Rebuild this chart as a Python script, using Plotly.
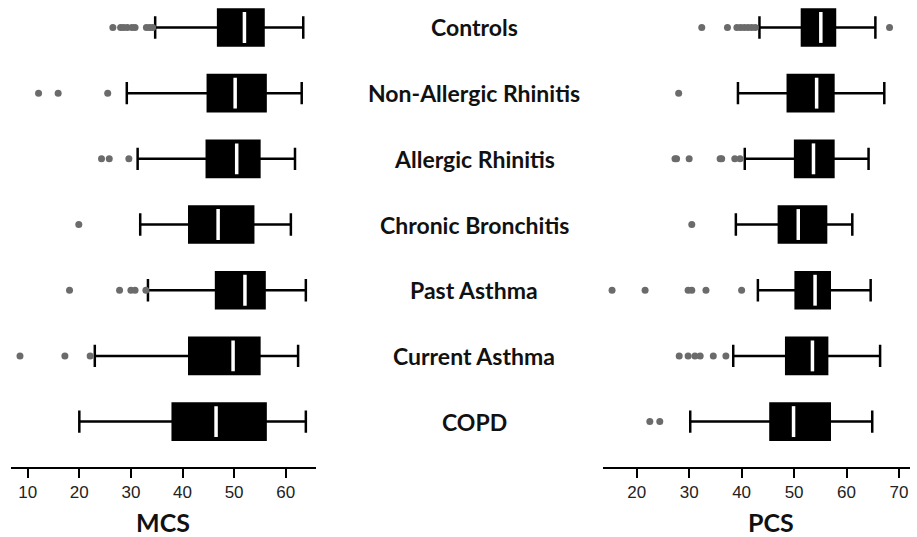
import plotly.graph_objects as go

categories = ["Controls", "Non-Allergic Rhinitis", "Allergic Rhinitis",
              "Chronic Bronchitis", "Past Asthma", "Current Asthma", "COPD"]

# MCS (left panel)
mcs_low = [34.7, 29.2, 31.3, 31.8, 33.3, 23.0, 20.0]
mcs_q1 = [46.9, 44.9, 44.7, 41.3, 46.5, 41.3, 38.1]
mcs_med = [52.0, 50.2, 50.5, 46.9, 52.1, 49.8, 46.5]
mcs_q3 = [55.7, 56.1, 54.9, 53.7, 55.9, 54.9, 56.1]
mcs_high = [63.4, 63.1, 61.8, 61.0, 63.9, 62.4, 63.9]
mcs_outliers = [
    [26.5, 28.0, 28.6, 29.3, 30.2, 30.8, 33.0, 33.6, 34.2],
    [12.1, 15.9, 25.5],
    [24.3, 25.8, 29.6],
    [19.9],
    [18.1, 27.8, 30.0, 30.8, 32.9],
    [8.5, 17.2, 22.1],
    [],
]

# PCS (right panel)
pcs_low = [43.4, 39.3, 40.6, 38.9, 43.1, 38.4, 30.2]
pcs_q1 = [51.5, 48.8, 50.2, 47.1, 50.3, 48.5, 45.5]
pcs_med = [55.1, 54.3, 53.7, 50.8, 54.0, 53.5, 49.9]
pcs_q3 = [57.8, 57.5, 57.5, 56.1, 56.8, 56.3, 56.8]
pcs_high = [65.5, 67.2, 64.2, 61.1, 64.6, 66.4, 64.9]
pcs_outliers = [
    [32.4, 37.3, 39.1, 39.8, 40.5, 41.2, 41.9, 42.6, 68.2],
    [28.0],
    [27.3, 27.6, 30.0, 35.9, 36.2, 38.7, 39.7],
    [30.5],
    [15.3, 21.6, 29.8, 30.5, 33.2, 40.0],
    [28.1, 29.8, 31.1, 32.1, 34.6, 37.0],
    [22.5, 24.4],
]

mcs_ticks = [10, 20, 30, 40, 50, 60]
pcs_ticks = [20, 30, 40, 50, 60, 70]

BOX_W = 0.55
MED_HALF = 0.235

W, H = 917, 537
fig = go.Figure()
pos = list(range(len(categories)))


def add_panel(xa, low, q1, med, q3, high, outliers):
    fig.add_trace(go.Box(
        y=pos, q1=q1, median=med, q3=q3, lowerfence=low, upperfence=high,
        orientation="h", xaxis=xa, yaxis="y",
        fillcolor="black", line=dict(color="black", width=2.5),
        whiskerwidth=0.62, width=BOX_W, boxpoints=False, showlegend=False,
    ))
    mx, my = [], []
    for i, m in enumerate(med):
        mx += [m, m, None]
        my += [i - MED_HALF, i + MED_HALF, None]
    fig.add_trace(go.Scatter(x=mx, y=my, mode="lines", xaxis=xa, yaxis="y",
                             line=dict(color="white", width=3.5), showlegend=False))
    ox, oy = [], []
    for i, vals in enumerate(outliers):
        ox += vals
        oy += [i] * len(vals)
    fig.add_trace(go.Scatter(x=ox, y=oy, mode="markers", xaxis=xa, yaxis="y",
                             marker=dict(color="#6b6b6b", size=7), showlegend=False))


add_panel("x", mcs_low, mcs_q1, mcs_med, mcs_q3, mcs_high, mcs_outliers)
add_panel("x2", pcs_low, pcs_q1, pcs_med, pcs_q3, pcs_high, pcs_outliers)

axis_common = dict(showline=True, linecolor="black", linewidth=2, ticks="outside",
                   ticklen=9, tickwidth=2, tickcolor="black", showgrid=False,
                   zeroline=False, anchor="y",
                   tickfont=dict(family="Liberation Sans, Arial", size=17, color="#222"),
                   ticklabelstandoff=0)

annotations = []
for i, c in enumerate(categories):
    annotations.append(dict(x=474 / W, y=i, xref="paper", yref="y", text="<b>%s</b>" % c,
                            showarrow=False, xanchor="center", yanchor="middle",
                            font=dict(family="Lato", size=23, color="#111")))
plot_h = 466.7
for txt, px in [("MCS", 163), ("PCS", 771)]:
    annotations.append(dict(x=px / W, y=(plot_h - 522) / plot_h, xref="paper", yref="paper",
                            text="<b>%s</b>" % txt, showarrow=False, xanchor="center",
                            yanchor="middle", font=dict(family="Lato", size=25, color="#111")))

fig.update_layout(
    width=W, height=H,
    margin=dict(l=0, r=0, t=0, b=H - plot_h),
    paper_bgcolor="white", plot_bgcolor="white",
    xaxis=dict(domain=[10.7 / W, 316 / W], range=[6.7, 65.87], tickvals=mcs_ticks, **axis_common),
    xaxis2=dict(domain=[603.3 / W, 910 / W], range=[13.63, 72.1], tickvals=pcs_ticks, **axis_common),
    yaxis=dict(range=[6.691, -0.418], visible=False, showgrid=False, zeroline=False),
    annotations=annotations,
)

fig.write_html("out.html", config={"displayModeBar": False},
               post_script="document.body.style.margin='0';document.body.style.overflow='hidden';")
